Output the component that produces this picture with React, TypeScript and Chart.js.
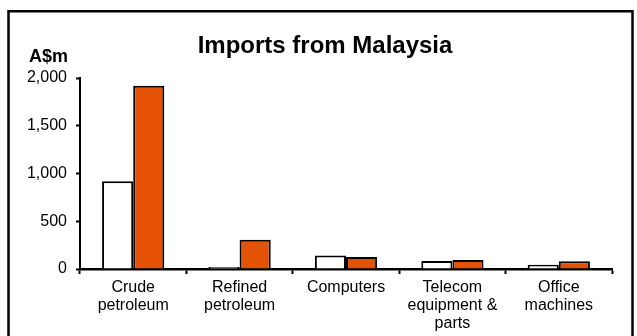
import React, { useEffect, useRef } from "react";
import { Chart, registerables } from "chart.js";

Chart.register(...registerables);

const categories: (string | string[])[] = [
  ["Crude", "petroleum"],
  ["Refined", "petroleum"],
  "Computers",
  ["Telecom", "equipment &", "parts"],
  ["Office", "machines"],
];
const seriesA = [920, 22, 142, 84, 45];
const seriesB = [1918, 305, 126, 95, 80];
const yTicks = [0, 500, 1000, 1500, 2000];
const titleText = "Imports from Malaysia";
const unitText = "A$m";

const FONT = "'Liberation Sans', Arial, sans-serif";

const framePlugin = {
  id: "frame",
  beforeDraw(chart: any) {
    const ctx = chart.ctx;
    ctx.save();
    ctx.fillStyle = "#ffffff";
    ctx.fillRect(0, 0, chart.width, chart.height);
    ctx.restore();
  },
  afterDraw(chart: any) {
    const ctx = chart.ctx;
    ctx.save();
    ctx.strokeStyle = "#000000";
    ctx.lineWidth = 2.5;
    ctx.strokeRect(8.5, 11.25, 624, 340);
    ctx.fillStyle = "#000000";
    ctx.textAlign = "center";
    ctx.textBaseline = "alphabetic";
    ctx.font = `bold 24px ${FONT}`;
    ctx.fillText(titleText, 325, 53);
    ctx.font = `bold 18px ${FONT}`;
    ctx.fillText(unitText, 48.5, 62);
    ctx.restore();
  },
};

export default function App() {
  const ref = useRef<HTMLCanvasElement>(null);
  useEffect(() => {
    if (!ref.current) return;
    const chart = new Chart(ref.current, {
      type: "bar",
      data: {
        labels: categories,
        datasets: [
          {
            label: "Series 1",
            data: seriesA,
            backgroundColor: "#ffffff",
            borderColor: "#000000",
            borderWidth: 2,
          },
          {
            label: "Series 2",
            data: seriesB,
            backgroundColor: "#E35205",
            borderColor: "#000000",
            borderWidth: 2,
          },
        ],
      },
      options: {
        responsive: false,
        animation: false,
        layout: { padding: { left: 0, right: 25, top: 78, bottom: 0 } },
        plugins: {
          legend: { display: false },
          tooltip: { enabled: false },
          title: { display: false },
        },
        datasets: {
          bar: { categoryPercentage: 0.585, barPercentage: 1 },
        },
        scales: {
          x: {
            grid: {
              offset: true,
              drawOnChartArea: false,
              drawTicks: true,
              tickLength: 5,
              tickColor: "#000000",
              tickWidth: 2,
            },
            border: { display: true, color: "#000000", width: 2.5 },
            ticks: {
              color: "#000000",
              font: { family: FONT, size: 16, lineHeight: 1.15 },
              padding: 4,
              maxRotation: 0,
              autoSkip: false,
            },
            afterFit(scale: any) {
              scale.height = 67;
            },
          },
          y: {
            min: 0,
            max: 2000,
            afterBuildTicks(scale: any) {
              scale.ticks = yTicks.map((v) => ({ value: v }));
            },
            grid: {
              drawOnChartArea: false,
              drawTicks: true,
              tickLength: 4,
              tickColor: "#000000",
              tickWidth: 2,
            },
            border: { display: true, color: "#000000", width: 2 },
            ticks: {
              color: "#000000",
              font: { family: FONT, size: 16 },
              padding: 9,
              callback: (v: any) => Number(v).toLocaleString("en-US"),
            },
            afterFit(scale: any) {
              scale.width = 80;
            },
          },
        },
      },
      plugins: [framePlugin],
    });
    return () => chart.destroy();
  }, []);
  return (
    <div style={{ position: "fixed", left: 0, top: 0, width: 637, height: 336, background: "#fff" }}>
      <canvas ref={ref} width={637} height={336} style={{ display: "block" }} />
    </div>
  );
}
